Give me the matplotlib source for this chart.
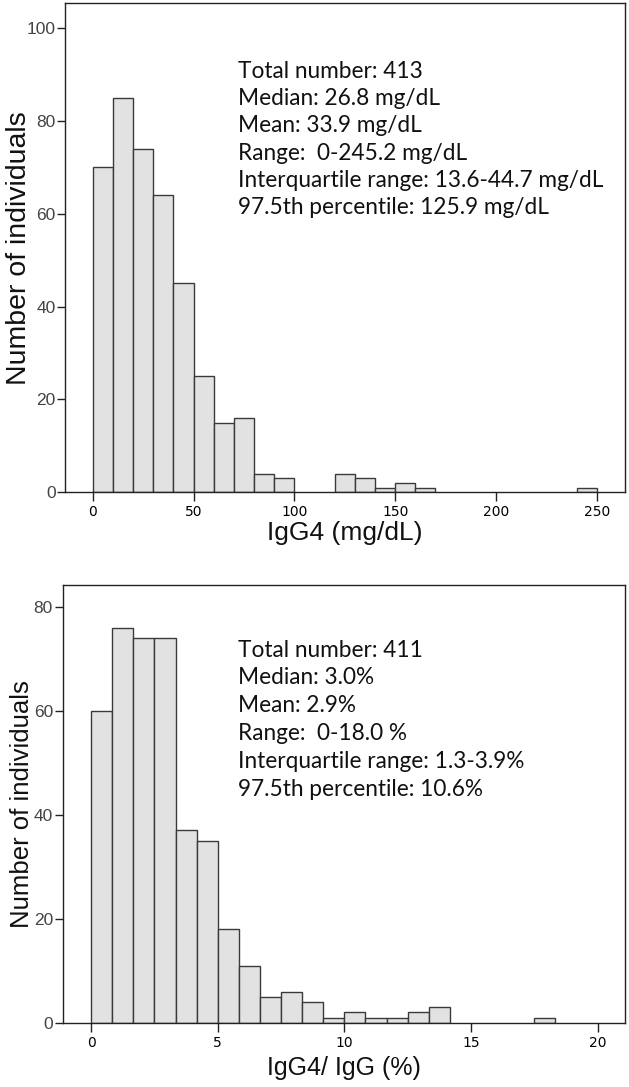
import numpy as np
import matplotlib
matplotlib.use("Agg")
import matplotlib.pyplot as plt

# ---------------- data ----------------
igg4_bin_width = 10.0
igg4_counts = [70, 85, 74, 64, 45, 25, 15, 16, 4, 3, 0, 0, 4, 3, 1, 2, 1,
               0, 0, 0, 0, 0, 0, 0, 1]
igg4_xticks = [0, 50, 100, 150, 200, 250]
igg4_yticks = [0, 20, 40, 60, 80, 100]
igg4_stats = ["Total number: 413",
              "Median: 26.8 mg/dL",
              "Mean: 33.9 mg/dL",
              "Range:  0-245.2 mg/dL",
              "Interquartile range: 13.6-44.7 mg/dL",
              "97.5th percentile: 125.9 mg/dL"]

ratio_bin_width = 5.0 / 6.0
ratio_counts = [60, 76, 74, 74, 37, 35, 18, 11, 5, 6, 4, 1, 2, 1, 1, 2, 3,
                0, 0, 0, 0, 1]
ratio_xticks = [0, 5, 10, 15, 20]
ratio_yticks = [0, 20, 40, 60, 80]
ratio_stats = ["Total number: 411",
               "Median: 3.0%",
               "Mean: 2.9%",
               "Range:  0-18.0 %",
               "Interquartile range: 1.3-3.9%",
               "97.5th percentile: 10.6%"]

W, H = 629, 1087
fig = plt.figure(figsize=(W / 100, H / 100), dpi=100)

def px_axes(left, top, right, bottom):
    return fig.add_axes([left / W, 1 - bottom / H, (right - left) / W, (bottom - top) / H])

TICK_FONT = "Liberation Sans"
TEXT_FONT = ["Lato", "DejaVu Sans"]

def draw(ax, counts, bw, xticks, yticks, xlim, ylim, xlabel, stats, ylabel_x, ylabel_fs,
         xlabel_y, xlabel_fs, stats_xy, stats_ls):
    counts = np.asarray(counts)
    edges = np.arange(len(counts)) * bw
    mask = counts > 0
    ax.bar(edges[mask], counts[mask], width=bw, align="edge",
           color="#e2e2e2", edgecolor="#3a3a3a", linewidth=1.0, zorder=2)
    ax.set_xlim(*xlim)
    ax.set_ylim(*ylim)
    ax.set_xticks(xticks)
    ax.set_yticks(yticks)
    ax.set_xticklabels([str(t) for t in xticks], fontfamily=TICK_FONT, fontsize=12.5, color="#444444")
    ax.set_yticklabels([str(t) for t in yticks], fontfamily=TICK_FONT, fontsize=12.5, color="#444444")
    ax.tick_params(axis="x", direction="out", length=6.5, width=1.0, color="#222222", pad=3)
    ax.tick_params(axis="y", direction="out", length=5.5, width=1.0, color="#222222", pad=1.5)
    for s in ax.spines.values():
        s.set_color("#222222")
        s.set_linewidth(1.0)
    ax.spines["bottom"].set_position(("data", 0))
    bb = ax.get_position()
    fig.text(ylabel_x / W, (bb.y0 + bb.y1) / 2, "Number of individuals", rotation=90,
             ha="center", va="center", fontfamily=TICK_FONT, fontsize=ylabel_fs, color="#111111")
    fig.text((bb.x0 + bb.x1) / 2, 1 - xlabel_y / H, xlabel, ha="center", va="center",
             fontfamily=TICK_FONT, fontsize=xlabel_fs, color="#111111")
    for i, line in enumerate(stats):
        fig.text(stats_xy[0] / W, 1 - (stats_xy[1] + i * stats_ls) / H, line,
                 ha="left", va="baseline", fontfamily=TEXT_FONT, fontsize=16.3, color="#111111")

ax1 = px_axes(65.3, 3.3, 625.0, 492.3)
draw(ax1, igg4_counts, igg4_bin_width, igg4_xticks, igg4_yticks,
     (-13.6, 264.0), (0, 105.3), "IgG4 (mg/dL)", igg4_stats,
     ylabel_x=19, ylabel_fs=20.5, xlabel_y=533, xlabel_fs=19,
     stats_xy=(238, 78.3), stats_ls=27.1)

ax2 = px_axes(62.7, 584.7, 625.3, 1022.7)
draw(ax2, ratio_counts, ratio_bin_width, ratio_xticks, ratio_yticks,
     (-1.12, 21.09), (0, 84.3), "IgG4/ IgG (%)", ratio_stats,
     ylabel_x=22, ylabel_fs=18.5, xlabel_y=1068, xlabel_fs=18,
     stats_xy=(238, 656.7), stats_ls=27.8)

fig.savefig("out.png", dpi=100, facecolor="white")
